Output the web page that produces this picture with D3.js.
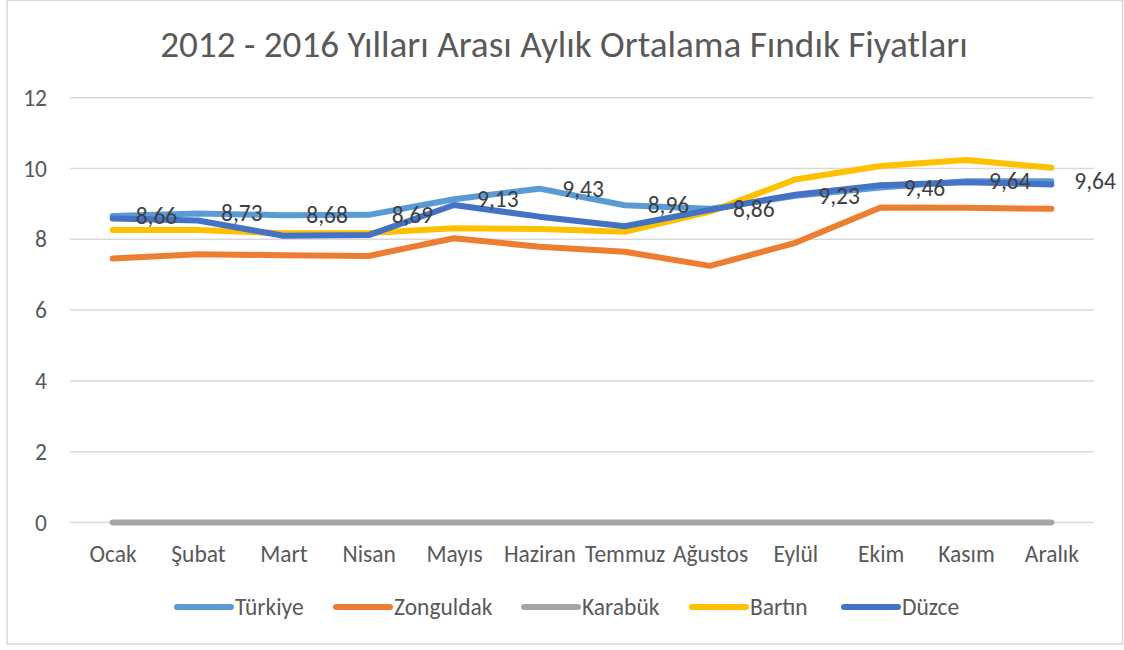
<!DOCTYPE html>
<html>
<head>
<meta charset="utf-8">
<script src="https://cdn.jsdelivr.net/npm/d3@7"></script>
<style>
  html, body { margin: 0; padding: 0; background: #ffffff; }
  svg text { font-family: Carlito, Calibri, Lato, "Noto Sans", sans-serif; }
</style>
</head>
<body>
<svg id="chart" width="1124" height="650"></svg>
<script>
const titleText = "2012 - 2016 Yılları Arası Aylık Ortalama Fındık Fiyatları";
const categories = ["Ocak", "Şubat", "Mart", "Nisan", "Mayıs", "Haziran", "Temmuz", "Ağustos", "Eylül", "Ekim", "Kasım", "Aralık"];
const yTicks = [0, 2, 4, 6, 8, 10, 12];
const seriesNames = ["Türkiye", "Zonguldak", "Karabük", "Bartın", "Düzce"];
const turkiye   = [8.66, 8.73, 8.68, 8.69, 9.13, 9.43, 8.96, 8.86, 9.23, 9.46, 9.64, 9.64];
const zonguldak = [7.46, 7.58, 7.55, 7.53, 8.03, 7.79, 7.65, 7.25, 7.90, 8.90, 8.89, 8.86];
const karabuk   = [0, 0, 0, 0, 0, 0, 0, 0, 0, 0, 0, 0];
const bartin    = [8.26, 8.26, 8.17, 8.18, 8.31, 8.29, 8.21, 8.78, 9.69, 10.07, 10.24, 10.02];
const duzce     = [8.59, 8.53, 8.10, 8.12, 8.97, 8.64, 8.37, 8.83, 9.26, 9.53, 9.61, 9.55];
const colors    = ["#5B9BD5", "#ED7D31", "#A5A5A5", "#FFC000", "#4472C4"];

const seriesData = [turkiye, zonguldak, karabuk, bartin, duzce];
const svg = d3.select("#chart");
const textColor = "#595959";
const fs = 23.5;

// border
svg.append("rect").attr("x", 7).attr("y", 0.5).attr("width", 1115.5).attr("height", 643.5)
  .attr("fill", "#fff").attr("stroke", "#d9d9d9").attr("stroke-width", 1.5);

const x = d3.scalePoint().domain(categories).range([70, 1094]).padding(0.5);
const y = d3.scaleLinear().domain([0, 12]).range([522.5, 97.7]);

// title
const title = svg.append("text").attr("x", 564).attr("y", 57).attr("text-anchor", "middle")
  .attr("fill", textColor).attr("font-size", 32).text(titleText);
const tw = title.node().getComputedTextLength();
title.attr("font-size", 32 * 808 / tw);

// gridlines
svg.append("g").selectAll("line").data(yTicks).join("line")
  .attr("x1", 70).attr("x2", 1094)
  .attr("y1", d => y(d)).attr("y2", d => y(d))
  .attr("stroke", "#d9d9d9").attr("stroke-width", 1.5);

// y axis labels
const yAxis = d3.axisLeft(y).tickValues(yTicks).tickSize(0).tickPadding(0).tickFormat(d => d);
const gy = svg.append("g").attr("transform", "translate(47,0)").call(yAxis);
gy.select(".domain").remove();
gy.selectAll("text").attr("fill", textColor).attr("font-size", fs).attr("font-family", null);

// x axis labels
const xAxis = d3.axisBottom(x).tickSize(0).tickPadding(0);
const gx = svg.append("g").attr("transform", "translate(0,545)").call(xAxis);
gx.select(".domain").remove();
gx.selectAll("text").attr("fill", textColor).attr("font-size", fs).attr("font-family", null).attr("dy", "0.71em");

// lines
const line = d3.line().x((d, i) => x(categories[i])).y(d => y(d));
svg.append("g").selectAll("path").data(seriesData).join("path")
  .attr("d", d => line(d))
  .attr("fill", "none")
  .attr("stroke", (d, i) => colors[i])
  .attr("stroke-width", 6)
  .attr("stroke-linejoin", "round")
  .attr("stroke-linecap", "round");

// data labels (Türkiye)
svg.append("g").selectAll("text").data(turkiye).join("text")
  .attr("x", (d, i) => x(categories[i]) + 23)
  .attr("y", d => y(d) + 8)
  .attr("fill", "#404040").attr("font-size", fs)
  .text(d => d.toFixed(2).replace(".", ","));

// legend
const legendX = [177, 336, 524, 692, 844];
const lg = svg.append("g").selectAll("g").data(seriesNames).join("g")
  .attr("transform", (d, i) => `translate(${legendX[i]},607)`);
lg.append("line").attr("x1", 0).attr("x2", 54).attr("y1", 0).attr("y2", 0)
  .attr("stroke", (d, i) => colors[i]).attr("stroke-width", 6).attr("stroke-linecap", "round");
lg.append("text").attr("x", 58).attr("y", 8).attr("fill", textColor).attr("font-size", fs).text(d => d);
</script>
</body>
</html>
